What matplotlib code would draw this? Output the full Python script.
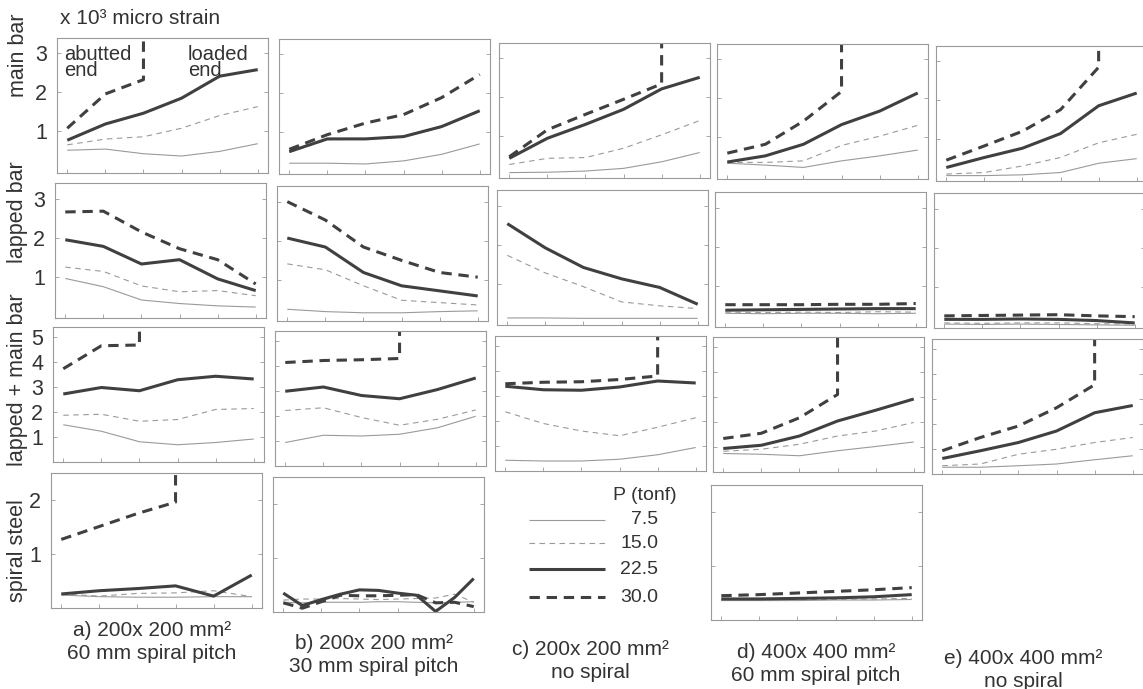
import numpy as np
import matplotlib.pyplot as plt
from matplotlib.lines import Line2D

plt.rcParams['font.family'] = ['Liberation Sans', 'DejaVu Sans']

###########
loads = ['7.5', '15.0', '22.5', '30.0']
rows = ['main bar', 'lapped bar', 'lapped + main bar', 'spiral steel']
captions = ['a) 200x 200 mm\u00b2\n60 mm spiral pitch',
            'b) 200x 200 mm\u00b2\n30 mm spiral pitch',
            'c) 200x 200 mm\u00b2\nno spiral',
            'd) 400x 400 mm\u00b2\n60 mm spiral pitch',
            'e) 400x 400 mm\u00b2\nno spiral']
###########

# strain (x 10^3 micro strain) per gauge, columns a..e
main_75 = [[0.49, 0.52, 0.40, 0.34, 0.46, 0.66], [0.18, 0.18, 0.16, 0.24, 0.41, 0.68],
           [0.04, 0.05, 0.08, 0.15, 0.32, 0.56], [0.31, 0.26, 0.20, 0.37, 0.50, 0.65],
           [0.04, 0.04, 0.06, 0.12, 0.36, 0.48]]
main_15 = [[0.63, 0.78, 0.84, 1.06, 1.39, 1.62], [0.46, 0.79, 0.80, 0.86, 1.11, 1.52],
           [0.25, 0.41, 0.43, 0.67, 1.02, 1.39], [0.33, 0.33, 0.37, 0.77, 1.01, 1.29],
           [0.08, 0.12, 0.29, 0.51, 0.89, 1.11]]
main_225 = [[0.75, 1.17, 1.45, 1.84, 2.41, 2.58], [0.48, 0.81, 0.81, 0.87, 1.13, 1.54],
            [0.41, 0.93, 1.29, 1.68, 2.21, 2.51], [0.34, 0.50, 0.80, 1.31, 1.66, 2.13],
            [0.25, 0.51, 0.75, 1.13, 1.85, 2.18]]
main_30 = [[1.06, 1.95, 2.32], [0.54, 0.92, 1.22, 1.44, 1.88, 2.48],
           [0.45, 1.15, 1.55, 1.94, 2.34], [0.57, 0.80, 1.40, 2.17],
           [0.44, 0.81, 1.19, 1.75, 2.85]]
main_fail = [True, False, True, True, True]

lap_75 = [[0.96, 0.75, 0.41, 0.32, 0.26, 0.23], [0.25, 0.19, 0.16, 0.16, 0.19, 0.21],
          [0.13, 0.13, 0.12, 0.12, 0.12, 0.12], [0.30, 0.29, 0.30, 0.30, 0.29, 0.30],
          [0.05, 0.04, 0.05, 0.04, 0.03, 0.02]]
lap_15 = [[1.25, 1.14, 0.77, 0.62, 0.65, 0.52], [1.41, 1.26, 0.85, 0.48, 0.42, 0.36],
          [1.73, 1.28, 0.93, 0.54, 0.44, 0.37], [0.33, 0.32, 0.33, 0.32, 0.34, 0.33],
          [0.08, 0.07, 0.08, 0.08, 0.06, 0.05]]
lap_225 = [[1.95, 1.78, 1.33, 1.44, 0.95, 0.65], [2.07, 1.84, 1.19, 0.85, 0.72, 0.59],
           [2.54, 1.92, 1.42, 1.13, 0.91, 0.48], [0.38, 0.39, 0.40, 0.41, 0.42, 0.42],
           [0.17, 0.17, 0.18, 0.17, 0.14, 0.08]]
lap_30 = [[2.66, 2.68, 2.15, 1.72, 1.44, 0.82], [3.00, 2.53, 1.84, 1.50, 1.19, 1.07],
          None, [0.52, 0.52, 0.52, 0.53, 0.53, 0.55],
          [0.26, 0.27, 0.28, 0.29, 0.26, 0.24]]
lap_fail = [False, False, False, False, False]

both_75 = [[1.49, 1.23, 0.81, 0.69, 0.78, 0.92], [0.94, 1.23, 1.20, 1.27, 1.53, 1.99],
           [0.43, 0.40, 0.40, 0.47, 0.65, 0.94], [0.74, 0.71, 0.65, 0.85, 1.02, 1.20],
           [0.27, 0.27, 0.33, 0.40, 0.57, 0.73]]
both_15 = [[1.87, 1.91, 1.63, 1.70, 2.10, 2.14], [2.22, 2.33, 1.94, 1.63, 1.87, 2.24],
           [2.37, 1.90, 1.60, 1.41, 1.75, 2.13], [0.83, 0.91, 1.11, 1.44, 1.64, 1.98],
           [0.33, 0.40, 0.79, 0.99, 1.26, 1.46]]
both_225 = [[2.72, 2.98, 2.85, 3.29, 3.43, 3.32], [2.99, 3.16, 2.82, 2.69, 3.06, 3.52],
            [3.39, 3.25, 3.23, 3.36, 3.60, 3.52], [0.94, 1.07, 1.44, 2.04, 2.47, 2.92],
            [0.62, 0.93, 1.26, 1.72, 2.45, 2.74]]
both_30 = [[3.73, 4.65, 4.68], [4.14, 4.22, 4.25, 4.30],
           [3.49, 3.55, 3.57, 3.66, 3.80], [1.34, 1.55, 2.17, 3.10],
           [0.93, 1.46, 1.92, 2.65, 3.57]]
both_fail = [True, True, True, True, True]

spir_75 = [[0.24, 0.21, 0.20, 0.20, 0.21, 0.21],
           [0.18, 0.17, 0.18, 0.18, 0.18, 0.19, 0.19, 0.18, 0.17, 0.18, 0.19],
           None, [0.36, 0.36, 0.36, 0.37, 0.37, 0.38], None]
spir_15 = [[0.26, 0.22, 0.27, 0.28, 0.32, 0.21],
           [0.22, 0.24, 0.24, 0.25, 0.24, 0.23, 0.24, 0.25, 0.26, 0.33, 0.18],
           None, [0.37, 0.37, 0.38, 0.38, 0.39, 0.40], None]
spir_225 = [[0.26, 0.32, 0.36, 0.41, 0.22, 0.61],
            [0.35, 0.12, 0.23, 0.33, 0.41, 0.40, 0.35, 0.31, 0.01, 0.27, 0.62],
            None, [0.39, 0.39, 0.40, 0.41, 0.43, 0.47], None]
spir_30 = [[1.27, 1.51, 1.75, 1.96],
           [0.17, 0.07, 0.19, 0.31, 0.30, 0.30, 0.31, 0.32, 0.17, 0.18, 0.10],
           None, [0.45, 0.47, 0.50, 0.53, 0.56, 0.60], None]
spir_fail = [True, False, False, False, False]

row_data = [(main_75, main_15, main_225, main_30, main_fail),
            (lap_75, lap_15, lap_225, lap_30, lap_fail),
            (both_75, both_15, both_225, both_30, both_fail),
            (spir_75, spir_15, spir_225, spir_30, spir_fail)]
row_ylim = [(-0.1, 3.4), (-0.05, 3.4), (0, 5.4), (0, 2.5)]
row_ticks = [[1, 2, 3], [1, 2, 3], [1, 2, 3, 4, 5], [1, 2]]

# panel placement in pixels (scan is a bit skewed)
W, H = 1143, 689
lefts = [57, 279, 499, 717, 936]
row_dx = [0, -2, -4, -6]
tops = [[38, 39, 43, 44, 46],
        [183, 186, 190, 192, 193],
        [327, 331, 336, 337, 339],
        [473, 477, 480, 485, 488]]
pw, ph = 211, 135

dark = '#404040'
light = '#9a9a9a'
txt = '#333333'
styles = [dict(color=light, lw=0.8, ls='-'),
          dict(color=light, lw=0.8, dashes=(5, 4)),
          dict(color=dark, lw=2.2, ls='-'),
          dict(color=dark, lw=2.2, dashes=(3.4, 2.2))]

fig = plt.figure(figsize=(W / 100, H / 100), dpi=100)

for r in range(4):
    for c in range(5):
        series = [row_data[r][k][c] for k in range(4)]
        if all(s is None for s in series):
            continue
        x0 = lefts[c] + row_dx[r]
        ax = fig.add_axes([x0 / W, 1 - (tops[r][c] + ph) / H, pw / W, ph / H])
        for k, vals in enumerate(series):
            if vals is None:
                continue
            n = len(vals)
            if r == 3 and n > 6:
                xs = np.linspace(0, 5, n)
            else:
                xs = np.arange(n)
            xs = list(xs)
            ys = list(vals)
            if k == 3 and row_data[r][4][c]:
                # specimen failed: gauge reading runs off the scale
                xs.append(xs[-1])
                ys.append(row_ylim[r][1] * 3)
            ax.plot(xs, ys, solid_capstyle='butt', dash_capstyle='butt', **styles[k])
        ax.set_xlim(-0.27, 5.27)
        ax.set_ylim(*row_ylim[r])
        ax.set_xticks(range(6))
        ax.set_yticks(row_ticks[r])
        ax.tick_params(direction='in', length=3, width=0.6, color='#999999',
                       top=False, right=True, labelbottom=False, labelsize=15.5,
                       labelcolor=txt, pad=7)
        if c > 0:
            ax.tick_params(labelleft=False)
        for sp in ax.spines.values():
            sp.set_color('#9a9a9a')
            sp.set_linewidth(0.8)
        if r == 0 and c == 0:
            ax.text(0.035, 0.95, 'abutted\nend', transform=ax.transAxes, fontsize=14.5,
                    color=txt, va='top', linespacing=0.85)
            ax.text(0.62, 0.95, 'loaded\nend', transform=ax.transAxes, fontsize=14.5,
                    color=txt, va='top', linespacing=0.85)

# overlay for free text and the legend, in pixel units
ov = fig.add_axes([0, 0, 1, 1])
ov.set_xlim(0, W)
ov.set_ylim(H, 0)
ov.axis('off')

ov.text(60, 18, 'x 10\u00b3 micro strain', fontsize=15, color=txt, va='center')
row_label_y = [55, 212, 380, 551]
for name, yy in zip(rows, row_label_y):
    ov.text(18, yy, name, rotation=90, fontsize=15.5, color=txt, ha='center', va='center')

cap_x = [152, 374, 590, 816, 1023]
cap_y = [642, 655, 661, 664, 670]
for cap, xx, yy in zip(captions, cap_x, cap_y):
    ov.text(xx, yy, cap, fontsize=15, color=txt, ha='center', va='center',
            multialignment='center', linespacing=1.25)

# legend
ov.text(645, 495, 'P (tonf)', fontsize=14, color=txt, ha='center', va='center')
leg_y = [520, 543, 569, 597]
for k, yy in enumerate(leg_y):
    ov.add_line(Line2D([529, 605], [yy, yy], solid_capstyle='butt',
                       dash_capstyle='butt', **styles[k]))
    ov.text(658, yy, loads[k], fontsize=14, color=txt, ha='right', va='center')

fig.savefig('out.png', dpi=100)
